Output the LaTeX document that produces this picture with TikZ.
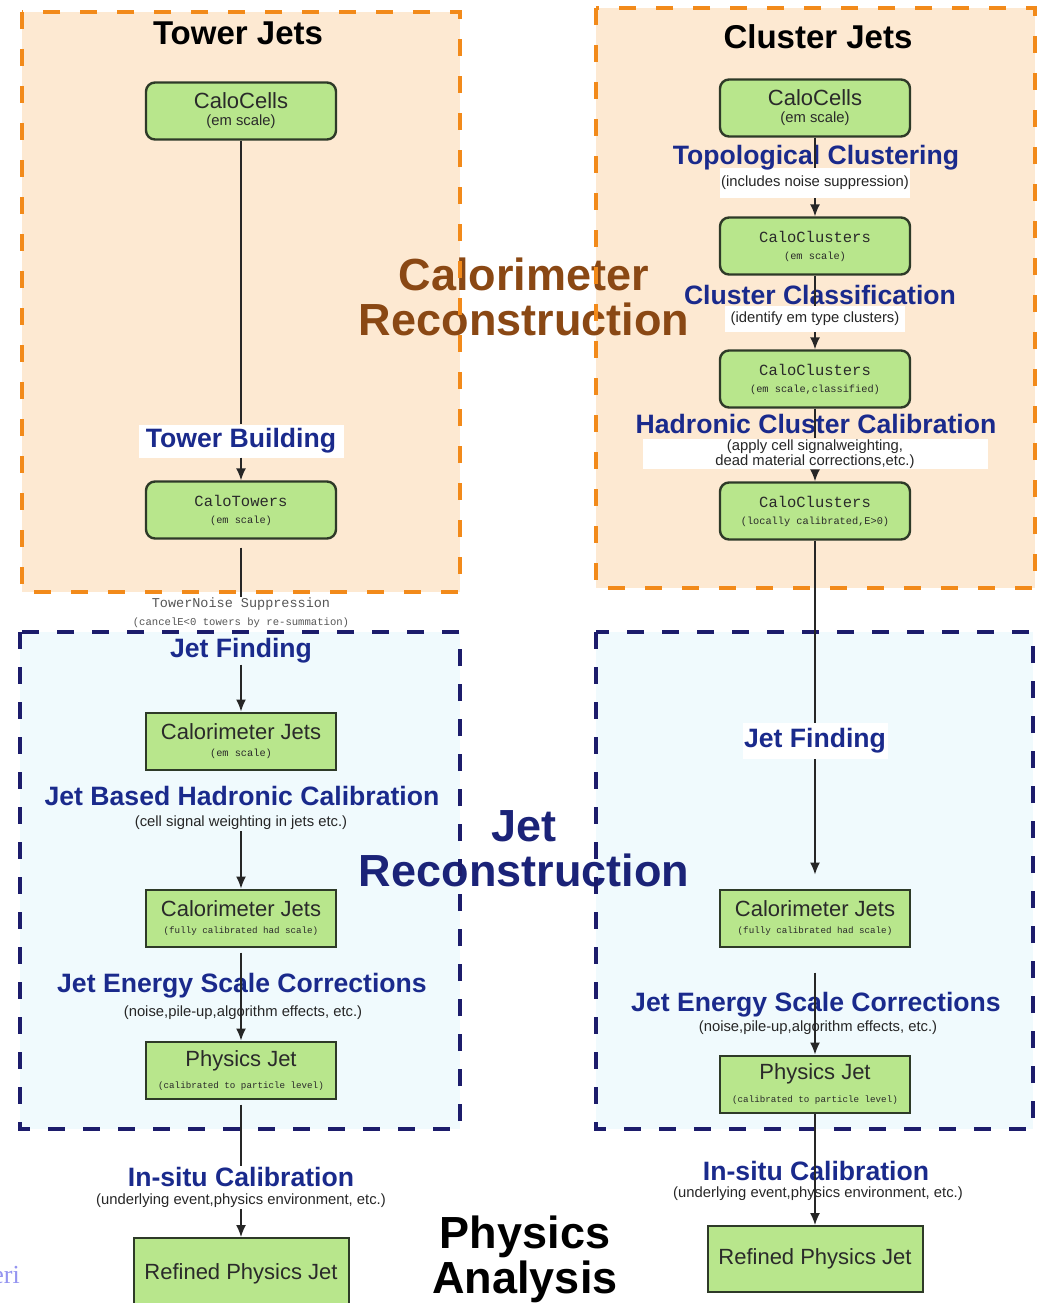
\documentclass[tikz,border=0pt]{standalone}
\usepackage{fontspec}
\setmainfont{Liberation Sans}
\newfontfamily\monofont{Liberation Mono}
\newfontfamily\fragfont{Liberation Serif}
\usetikzlibrary{positioning, arrows.meta}

\definecolor{boxgreen}{HTML}{B8E68C}
\definecolor{boxedge}{HTML}{2E3A28}
\definecolor{boxtext}{HTML}{2A2A2A}
\definecolor{monogray}{HTML}{555555}
\definecolor{zonepeach}{HTML}{FDE9D2}
\definecolor{zoneorange}{HTML}{F28A1A}
\definecolor{zoneblue}{HTML}{F0FAFD}
\definecolor{zonenavy}{HTML}{1C1C6B}
\definecolor{stageblue}{HTML}{1A2A8C}
\definecolor{calobrown}{HTML}{8A4814}
\definecolor{jetnavy}{HTML}{1B2378}
\definecolor{fragviolet}{HTML}{9494F0}

\newcommand{\subsize}{\fontsize{14.8}{15}\selectfont}
\newcommand{\monobig}{\monofont\fontsize{15.5}{17}\selectfont}
\newcommand{\monomid}{\monofont\fontsize{13.5}{18}\selectfont}
\newcommand{\monosmall}{\monofont\fontsize{10.3}{11}\selectfont}
\newcommand{\monotiny}{\monofont\fontsize{9.2}{11}\selectfont}

\begin{document}
\begin{tikzpicture}[
    x=1pt, y=-1pt,
    zone/.style={inner sep=0pt, outer sep=0pt, draw=none},
    calodash/.style={draw=zoneorange, line width=4pt, dash pattern=on 17pt off 20pt},
    jetdash/.style={draw=zonenavy, line width=4.5pt, dash pattern=on 17pt off 18pt},
    calobox/.style={draw=boxedge, fill=boxgreen, line width=2.4pt, rounded corners=9pt,
        minimum width=190pt, minimum height=57pt, align=center, text=boxtext,
        inner sep=2pt, font=\fontsize{22}{17}\selectfont},
    jetbox/.style={calobox, sharp corners, line width=2pt},
    stagename/.style={text=stageblue, font=\bfseries\fontsize{26.6}{28}\selectfont, inner sep=1pt},
    stagenote/.style={text=black!85, font=\subsize, align=center, inner sep=1pt},
    whitebox/.style={fill=white},
    coltitle/.style={font=\bfseries\fontsize{33}{36}\selectfont},
    bigtitle/.style={font=\bfseries\fontsize{45}{45}\selectfont, align=center},
    link/.style={line width=1.4pt, draw=black!85},
    arrow/.style={link, -{Latex[length=12pt, width=10pt]}}
]
\useasboundingbox (0,0) rectangle (1050,1303);

% zones
\node[zone, fill=zonepeach, minimum width=438pt, minimum height=580pt] (caloL) at (241,302) {};
\node[zone, fill=zonepeach, minimum width=439pt, minimum height=580pt] (caloR) at (815.5,298) {};
\node[zone, fill=zoneblue, minimum width=440pt, minimum height=497pt] (jetL) at (240,880.5) {};
\node[zone, fill=zoneblue, minimum width=437pt, minimum height=497pt] (jetR) at (814.5,880.5) {};

\node[bigtitle, text=calobrown] (calorec) at (524,297) {Calorimeter\\Reconstruction};
\node[bigtitle, text=jetnavy] (jetrec) at (524,849) {Jet\\Reconstruction};
\node[bigtitle, text=black] (physana) at (525,1259) {Physics\\Analysis};

\draw[calodash] (caloL.north west) rectangle (caloL.south east);
\draw[calodash] (caloR.north west) rectangle (caloR.south east);
\draw[jetdash] (jetL.north west) rectangle (jetL.south east);
\draw[jetdash] (jetR.north west) rectangle (jetR.south east);

% tower jets
\node[coltitle] (towerjets) at (238,33) {Tower Jets};
\node[calobox] (cellsL) at (241,111) {CaloCells\\{\subsize (em scale)}};
\node[stagename, whitebox, minimum width=205pt, minimum height=33pt] (buildL) at (241,441) {Tower Building};
\node[calobox] (towersL) at (241,510) {{\monobig CaloTowers}\\{\monosmall (em scale)}};
\node[align=center, text=monogray, inner sep=1pt, font=\fontsize{13.5}{18}\selectfont] (noiseL) at (241,613)
    {{\monomid TowerNoise Suppression}\\{\monofont\fontsize{10.6}{12}\selectfont (cancelE<0 towers by re-summation)}};
\node[stagename] (findL) at (241,651) {Jet Finding};
\node[jetbox] (cjemL) at (241,741) {Calorimeter Jets\\{\monosmall (em scale)}};
\node[stagename] (hadL) at (242,796) {Jet Based Hadronic Calibration};
\node[stagenote] (hadLn) at (241,823) {(cell signal weighting in jets etc.)};
\node[jetbox] (cjhadL) at (241,918) {Calorimeter Jets\\{\monotiny (fully calibrated had scale)}};
\node[stagename] (jesL) at (242,986) {Jet Energy Scale Corrections};
\node[stagenote] (jesLn) at (243,1013) {(noise,pile-up,algorithm effects, etc.)};
\node[jetbox] (physL) at (241,1070) {Physics Jet\\[5pt]{\monotiny (calibrated to particle level)}};
\node[stagename] (insituL) at (241,1177) {In-situ Calibration};
\node[stagenote] (insituLn) at (241,1201) {(underlying event,physics environment, etc.)};
\node[jetbox, minimum width=215pt, minimum height=72pt] (refL) at (241,1274) {Refined Physics Jet};

% cluster jets
\node[coltitle] (clusterjets) at (818,37) {Cluster Jets};
\node[calobox] (cellsR) at (815,108) {CaloCells\\{\subsize (em scale)}};
\node[stagenote, whitebox, minimum width=165pt, minimum height=30pt] (topoRn) at (815,183) {(includes noise suppression)};
\node[stagename] (topoR) at (816,158) {Topological Clustering};
\node[calobox] (clustemR) at (815,246) {{\monobig CaloClusters}\\{\monosmall (em scale)}};
\node[stagenote, whitebox, minimum width=180pt, minimum height=26pt] (classRn) at (815,319) {(identify em type clusters)};
\node[stagename] (classR) at (820,295) {Cluster Classification};
\node[calobox] (clustclR) at (815,379) {{\monobig CaloClusters}\\{\monosmall (em scale,classified)}};
\node[stagenote, whitebox, minimum width=345pt] (calibRn) at (815,454) {(apply cell signalweighting,\\dead material corrections,etc.)};
\node[stagename] (calibR) at (816,424) {Hadronic Cluster Calibration};
\node[calobox] (clustlcR) at (815,511) {{\monobig CaloClusters}\\{\monosmall (locally calibrated,E>0)}};
\node[stagename, whitebox, minimum width=145pt, minimum height=36pt] (findR) at (815,741) {Jet Finding};
\node[jetbox] (cjhadR) at (815,918) {Calorimeter Jets\\{\monotiny (fully calibrated had scale)}};
\node[stagename] (jesR) at (816,1005) {Jet Energy Scale Corrections};
\node[stagenote] (jesRn) at (818,1028) {(noise,pile-up,algorithm effects, etc.)};
\node[jetbox] (physR) at (815,1084) {Physics Jet\\[6pt]{\monotiny (calibrated to particle level)}};
\node[stagename] (insituR) at (816,1171) {In-situ Calibration};
\node[stagenote] (insituRn) at (818,1194) {(underlying event,physics environment, etc.)};
\node[jetbox, minimum width=215pt, minimum height=66pt] (refR) at (815,1259) {Refined Physics Jet};

\node[font=\fragfont\fontsize{26}{26}\selectfont, text=fragviolet, anchor=east, inner sep=0pt] (frag) at (20,1275) {eri};

% connectors
\draw[link] (cellsL) -- (buildL);
\draw[arrow] (buildL) -- (towersL);
\draw[link, shorten <=8pt] (towersL) -- (noiseL);
\draw[arrow] (findL) -- (cjemL);
\draw[arrow] (hadLn) -- (cjhadL);
\draw[arrow, shorten <=5pt] (cjhadL) -- (physL);
\draw[link, shorten <=5pt] (physL) -- (insituL);
\draw[arrow] (insituLn) -- (refL);

\draw[link] (cellsR) -- (topoRn);
\draw[arrow] (topoRn) -- (clustemR);
\draw[link] (clustemR) -- (classRn);
\draw[arrow] (classRn) -- (clustclR);
\draw[link] (clustclR) -- (calibRn);
\draw[arrow] (calibRn) -- (clustlcR);
\draw[link] (clustlcR) -- (findR);
\draw[arrow, shorten >=14pt] (findR) -- (cjhadR);
\draw[arrow, shorten <=25pt] (cjhadR) -- (physR);
\draw[arrow] (physR) -- (refR);

\end{tikzpicture}
\end{document}
